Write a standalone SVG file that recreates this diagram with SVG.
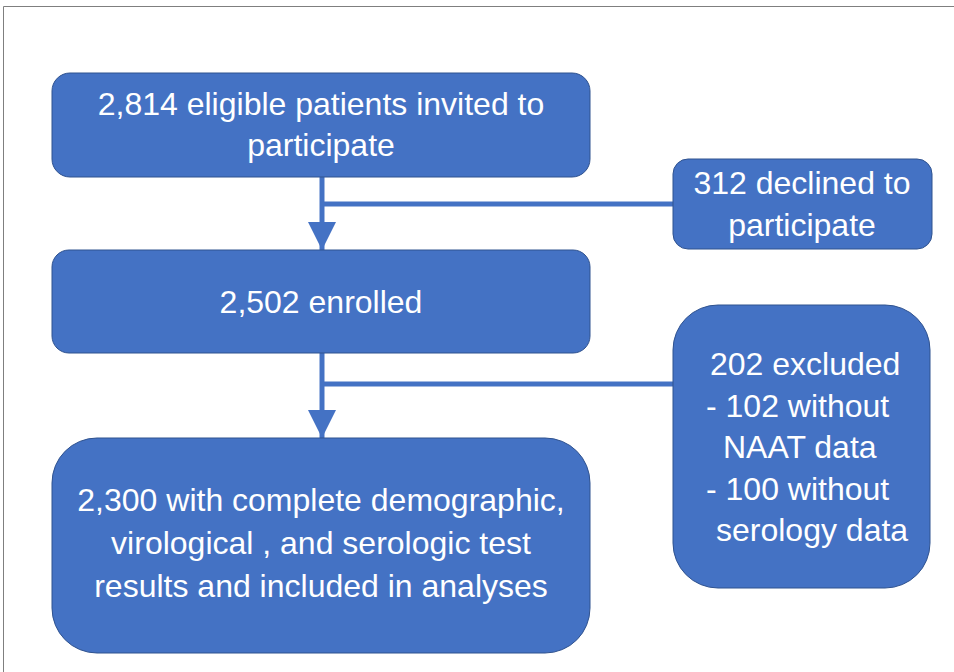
<svg xmlns="http://www.w3.org/2000/svg" width="954" height="672" viewBox="0 0 954 672">
<style>
.box{fill:#4472C4;stroke:#2F528F;stroke-width:1}
.t{font-family:"Liberation Sans",Arial,sans-serif;font-size:32px;fill:#FFFFFF}
.c{text-anchor:middle}
.con{stroke:#4472C4;stroke-width:5;fill:none}
.frame{stroke:#7F7F7F;stroke-width:1;fill:none}
</style>
<defs>
<marker id="ah" markerUnits="userSpaceOnUse" viewBox="0 0 28 28" markerWidth="28" markerHeight="28" refX="28" refY="14" orient="auto">
<path d="M0,0 L28,14 L0,28 Z" fill="#4472C4"/>
</marker>
</defs>
<path class="frame" d="M3.5,672 V6.5 H954"/>
<g id="connectors">
<line class="con" x1="322" y1="177" x2="322" y2="250" marker-end="url(#ah)"/>
<line class="con" x1="322" y1="204" x2="673" y2="204"/>
<line class="con" x1="322" y1="353" x2="322" y2="438" marker-end="url(#ah)"/>
<line class="con" x1="322" y1="384" x2="673" y2="384"/>
</g>
<g id="invited">
<rect class="box" x="52" y="73" width="538" height="104" rx="18"/>
<text class="t c" x="321" y="115">2,814 eligible patients invited to</text>
<text class="t c" x="321" y="156">participate</text>
</g>
<g id="declined">
<rect class="box" x="673" y="159" width="259" height="90" rx="15"/>
<text class="t c" x="802" y="194">312 declined to</text>
<text class="t c" x="802" y="236">participate</text>
</g>
<g id="enrolled">
<rect class="box" x="52" y="250" width="538" height="103" rx="17"/>
<text class="t c" x="321" y="313">2,502 enrolled</text>
</g>
<g id="excluded">
<rect class="box" x="673" y="305" width="257" height="283" rx="45"/>
<text class="t" x="710" y="375">202 excluded</text>
<text class="t" x="706" y="417">- 102 without</text>
<text class="t" x="723" y="458">NAAT data</text>
<text class="t" x="706" y="500">- 100 without</text>
<text class="t" x="716" y="541">serology data</text>
</g>
<g id="included">
<rect class="box" x="52" y="438" width="538" height="215" rx="45"/>
<text class="t c" x="321" y="511">2,300 with complete demographic,</text>
<text class="t c" x="321" y="554">virological , and serologic test</text>
<text class="t c" x="321" y="597">results and included in analyses</text>
</g>
</svg>
